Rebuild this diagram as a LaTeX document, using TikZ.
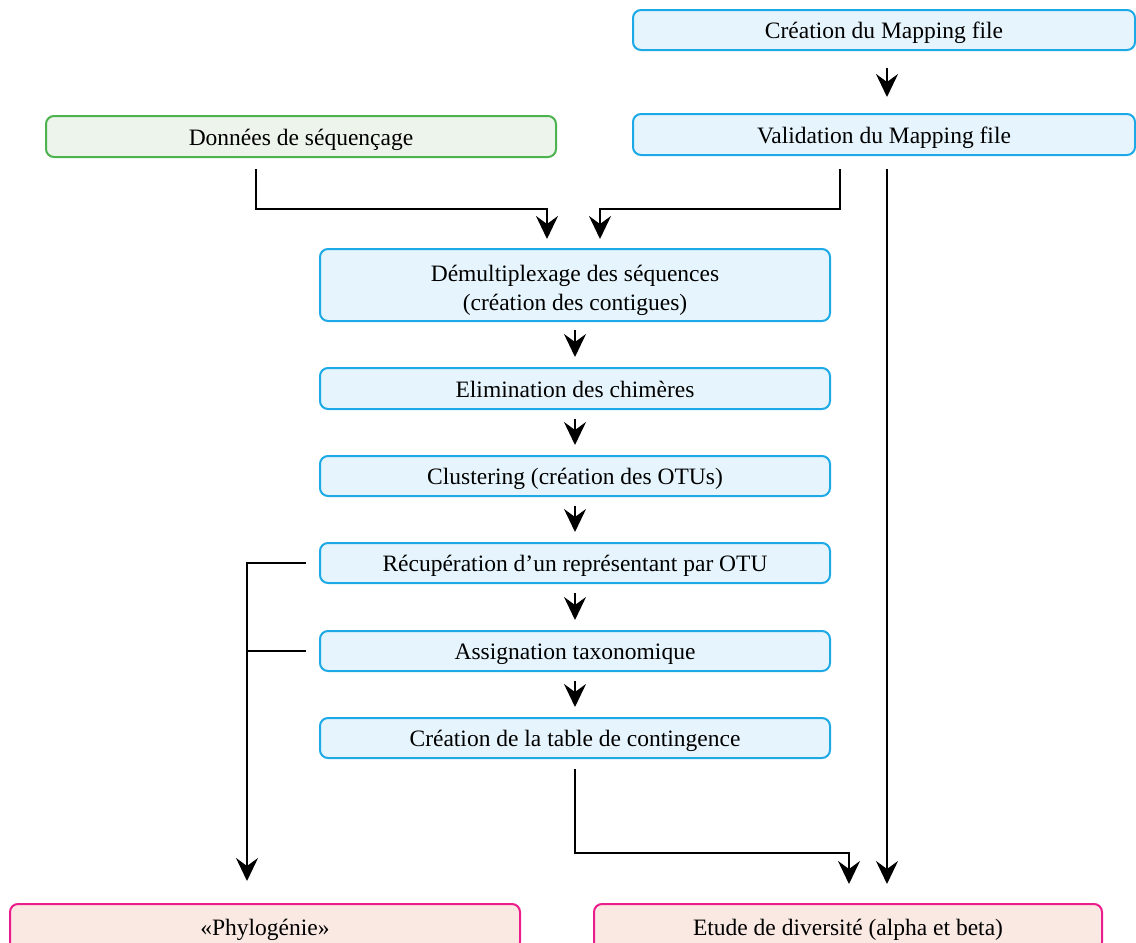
\documentclass[tikz,border=0pt]{standalone}
\usepackage{fontspec}
\setmainfont{Liberation Serif}
\usetikzlibrary{arrows.meta}
\definecolor{bluedge}{HTML}{1CA9E6}
\definecolor{bluefill}{HTML}{E6F5FD}
\definecolor{greenedge}{HTML}{4DB34E}
\definecolor{greenfill}{HTML}{EDF4EC}
\definecolor{pinkedge}{HTML}{EC1C8C}
\definecolor{pinkfill}{HTML}{FAE9E3}
\tikzset{
  box/.style={rectangle, rounded corners=8pt, line width=2pt, align=center,
    inner sep=0pt, text height=19pt, text depth=2pt,
    font=\fontsize{23.5}{29}\selectfont},
  twoline/.style={text height={}, text depth={}},
  bluebox/.style={box, draw=bluedge, fill=bluefill},
  greenbox/.style={box, draw=greenedge, fill=greenfill},
  pinkbox/.style={box, draw=pinkedge, fill=pinkfill},
  link/.style={line width=2.2pt, draw=black},
  arr/.style={link, -{Stealth[length=23pt, width=22pt, inset=8pt]}},
}
\begin{document}
\begin{tikzpicture}[x=1pt, y=-1pt]
\useasboundingbox (0,0) rectangle (1136,943);

% input boxes
\node[bluebox, minimum width=502pt, minimum height=40pt] (mapc) at (884,30) {Création du Mapping file};
\node[bluebox, minimum width=502pt, minimum height=41pt] (mapv) at (884,134.5) {Validation du Mapping file};
\node[greenbox, minimum width=510pt, minimum height=41pt] (seq) at (301,136.5) {Données de séquençage};

% processing chain
\node[bluebox, twoline, minimum width=510pt, minimum height=72pt] (demux) at (575,285) {\rule{0pt}{28pt}Démultiplexage des séquences\\(création des contigues)};
\node[bluebox, minimum width=510pt, minimum height=41pt] (chim) at (575,388.5) {Elimination des chimères};
\node[bluebox, minimum width=510pt, minimum height=40pt] (clust) at (575,476) {Clustering (création des OTUs)};
\node[bluebox, minimum width=510pt, minimum height=40pt] (repr) at (575,563) {Récupération d’un représentant par OTU};
\node[bluebox, minimum width=510pt, minimum height=40pt] (tax) at (575,651) {Assignation taxonomique};
\node[bluebox, minimum width=510pt, minimum height=40pt] (otutab) at (575,738) {Création de la table de contingence};

% outputs
\node[pinkbox, minimum width=510pt, minimum height=46pt] (phylo) at (265,927) {«Phylogénie»};
\node[pinkbox, minimum width=508pt, minimum height=46pt] (div) at (848,927) {Etude de diversité (alpha et beta)};

% connectors
\draw[arr] ([xshift=3pt,yshift=-17pt]mapc.south) -- ([xshift=3pt,yshift=16pt]mapv.north);

\draw[arr] ([xshift=-45pt,yshift=-11pt]seq.south) |- ([xshift=-28pt,yshift=39pt]demux.north)
  -- ([xshift=-28pt,yshift=9pt]demux.north);
\draw[arr] ([xshift=-44pt,yshift=-13pt]mapv.south) |- ([xshift=25pt,yshift=39pt]demux.north)
  -- ([xshift=25pt,yshift=9pt]demux.north);
\draw[arr] ([xshift=3pt,yshift=-13pt]mapv.south) -- ([xshift=39pt,yshift=19pt]div.north);

\draw[arr] ([yshift=-8pt]demux.south) -- ([yshift=10pt]chim.north);
\draw[arr] ([yshift=-9pt]chim.south) -- ([yshift=10pt]clust.north);
\draw[arr] ([yshift=-9pt]clust.south) -- ([yshift=10pt]repr.north);
\draw[arr] ([yshift=-9pt]repr.south) -- ([yshift=10pt]tax.north);
\draw[arr] ([yshift=-9pt]tax.south) -- ([yshift=10pt]otutab.north);

\draw[arr] ([yshift=-10pt]otutab.south) |- ([xshift=1pt,yshift=50pt]div.north)
  -- ([xshift=1pt,yshift=19pt]div.north);

\draw[arr] ([xshift=-13pt]repr.west) -| ([xshift=-18pt,yshift=22pt]phylo.north);
\draw[link] ([xshift=-13pt]tax.west) -- ([xshift=-73pt]tax.west);
\end{tikzpicture}
\end{document}
